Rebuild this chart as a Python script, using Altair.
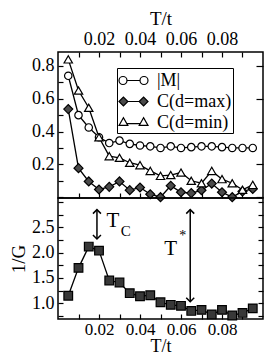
import altair as alt
import pandas as pd

# ---------------- data ----------------
T = [0.005, 0.010, 0.015, 0.020, 0.025, 0.030, 0.035, 0.040, 0.045, 0.050,
     0.055, 0.060, 0.065, 0.070, 0.075, 0.080, 0.085, 0.090, 0.095]
M_abs = [0.74, 0.50, 0.425, 0.365, 0.33, 0.345, 0.325, 0.315, 0.31, 0.30,
         0.31, 0.30, 0.305, 0.31, 0.31, 0.305, 0.30, 0.30, 0.30]
C_dmax = [0.537, 0.177, 0.096, 0.047, 0.063, 0.096, 0.043, 0.059, 0.018, 0.0,
          0.07, 0.03, 0.025, 0.042, 0.083, 0.03, 0.0, 0.035, 0.05]
C_dmin = [0.84, 0.65, 0.545, 0.365, 0.25, 0.24, 0.21, 0.195, 0.16, 0.13,
          0.135, 0.15, 0.10, 0.085, 0.16, 0.11, 0.085, 0.045, 0.075]
inv_G = [1.15, 1.70, 2.12, 2.04, 1.45, 1.41, 1.20, 1.14, 1.16, 1.02,
         0.97, 0.95, 0.85, 0.87, 0.78, 0.87, 0.76, 0.81, 0.90]
series_names = ["|M|", "C(d=max)", "C(d=min)"]

x_label_values = [0.02, 0.04, 0.06, 0.08]
x_tick_values = [0.01, 0.02, 0.03, 0.04, 0.05, 0.06, 0.07, 0.08, 0.09]
top_y_labels = [0.2, 0.4, 0.6, 0.8]
top_y_left_ticks = [0.0, 0.1, 0.2, 0.3, 0.4, 0.5, 0.6, 0.7, 0.8]
top_y_right_ticks = [0.0, 0.2, 0.4, 0.6, 0.8]
bot_y_labels = [1.0, 1.5, 2.0, 2.5]
bot_y_ticks = [0.75, 1.0, 1.25, 1.5, 1.75, 2.0, 2.25, 2.5, 2.75, 3.0]

# annotations (data coordinates)
arrow_x = [0.019, 0.0645]
arrow_top = [2.85, 2.85]
arrow_bottom = [2.27, 1.03]
main_text = ["T", "T"]
main_x = [0.0268, 0.0550]
main_y = [2.62, 2.07]
sub_text = ["C"]
sub_x = [0.0330]
sub_y = [2.42]
sup_text = ["*"]
sup_x = [0.0608]
sup_y = [2.32]

# ---------------- layout / style ----------------
FONT = "Liberation Serif"
W, H1, H2 = 205, 146, 121

xs = alt.Scale(domain=[0, 0.1], nice=False, zero=False)
ys_top = alt.Scale(domain=[-0.005, 0.885], nice=False, zero=False)
ys_bot = alt.Scale(domain=[0.69, 3.08], nice=False, zero=False)


def tick_axis(orient, offset, values, size=5):
    return alt.Axis(orient=orient, offset=offset, values=values, labels=False,
                    domain=False, grid=False, ticks=True, tickSize=size,
                    tickColor="black", tickWidth=1.2, title=None, minExtent=0)


def label_axis(orient, values, fmt, title=None, title_pad=2, label_pad=4,
               label_size=18, title_size=19):
    kw = dict(orient=orient, values=values, format=fmt, ticks=False, tickSize=0,
              domain=False, grid=False, labelPadding=label_pad, labelOverlap=False,
              labelFlush=False, labelFont=FONT, labelFontSize=label_size, labelColor="black")
    if title is not None:
        kw.update(title=title, titlePadding=title_pad, titleFont=FONT,
                  titleFontSize=title_size, titleFontWeight="normal", titleColor="black")
    else:
        kw.update(title=None)
    return alt.Axis(**kw)


rows = []
for name, vals in zip(series_names, [M_abs, C_dmax, C_dmin]):
    for t, v in zip(T, vals):
        rows.append({"T": t, "v": v, "series": name})
df_top = pd.DataFrame(rows)
df_bot = pd.DataFrame({"T": T, "g": inv_G})

# ---------------- top panel ----------------
top_lines = alt.Chart(df_top).mark_line(color="black", strokeWidth=1.3).encode(
    x=alt.X("T:Q", scale=xs, axis=label_axis("top", x_label_values, ".2f", title="T/t")),
    y=alt.Y("v:Q", scale=ys_top, axis=label_axis("left", top_y_labels, ".1f")),
    detail="series:N",
)

marker_style = {
    "|M|": dict(shape="circle", fill="white", size=55),
    "C(d=max)": dict(shape="diamond", fill="#4a4a4a", size=80),
    "C(d=min)": dict(shape="triangle-up", fill="white", size=70),
}
top_points = []
for name in series_names:
    st = marker_style[name]
    top_points.append(
        alt.Chart(df_top)
        .transform_filter(alt.datum.series == name)
        .mark_point(shape=st["shape"], filled=True, fill=st["fill"], stroke="black",
                    strokeWidth=1.2, size=st["size"], opacity=1)
        .encode(x=alt.X("T:Q", scale=xs, axis=None),
                y=alt.Y("v:Q", scale=ys_top, axis=None))
    )

# legend glyphs: marker - line - marker
legend_paths = [
    "M-1.38,0 A0.38,0.38 0 1,1 -0.62,0 A0.38,0.38 0 1,1 -1.38,0 Z M-0.62,0 L0.62,0 "
    "M0.62,0 A0.38,0.38 0 1,1 1.38,0 A0.38,0.38 0 1,1 0.62,0 Z",
    "M-1.38,0 L-0.96,-0.42 L-0.54,0 L-0.96,0.42 Z M-0.54,0 L0.54,0 "
    "M0.54,0 L0.96,-0.42 L1.38,0 L0.96,0.42 Z",
    "M-1.38,0.28 L-0.96,-0.45 L-0.54,0.28 Z M-0.64,0.1 L0.64,0.1 "
    "M0.54,0.28 L0.96,-0.45 L1.38,0.28 Z",
]
leg = alt.Legend(orient="none", legendX=59, legendY=16, title=None,
                 labelFont=FONT, labelFontSize=18, labelColor="black",
                 symbolSize=441, symbolStrokeWidth=1.2, symbolStrokeColor="black",
                 strokeColor="black", fillColor="white", padding=1, rowPadding=-3,
                 labelOffset=12, symbolOffset=4)
legend_layer = (
    alt.Chart(df_top)
    .transform_filter("datum.v < -100")
    .mark_point(filled=True, strokeWidth=1.2, opacity=1)
    .encode(
        x=alt.X("T:Q", scale=xs, axis=None),
        y=alt.Y("v:Q", scale=ys_top, axis=None),
        shape=alt.Shape("series:N", scale=alt.Scale(domain=series_names, range=legend_paths), legend=leg),
        fill=alt.Fill("series:N", scale=alt.Scale(domain=series_names, range=["white", "#4a4a4a", "white"]), legend=leg),
        stroke=alt.Stroke("series:N", scale=alt.Scale(domain=series_names, range=["black", "black", "black"]), legend=leg),
    )
)

top_ticks_a = alt.Chart(df_top).transform_filter("datum.v < -100").mark_point().encode(
    x=alt.X("T:Q", scale=xs, axis=tick_axis("bottom", -H1, x_tick_values)),
    y=alt.Y("v:Q", scale=ys_top, axis=tick_axis("right", -W, top_y_left_ticks)),
)
top_ticks_b = alt.Chart(df_top).transform_filter("datum.v < -100").mark_point().encode(
    x=alt.X("T:Q", scale=xs, axis=tick_axis("top", -H1, x_tick_values)),
    y=alt.Y("v:Q", scale=ys_top, axis=tick_axis("left", -W, top_y_right_ticks, 7)),
)

top = alt.layer(top_lines, *top_points, legend_layer, top_ticks_a, top_ticks_b).resolve_axis(
    x="independent", y="independent").properties(width=W, height=H1)

# ---------------- bottom panel ----------------
bot_line = alt.Chart(df_bot).mark_line(color="black", strokeWidth=1.3).encode(
    x=alt.X("T:Q", scale=xs, axis=label_axis("bottom", x_label_values, ".2f", title="T/t",
                                             title_pad=0, label_pad=2, label_size=17, title_size=18)),
    y=alt.Y("g:Q", scale=ys_bot, axis=label_axis("left", bot_y_labels, ".1f", title="1/G", title_pad=3)),
)
bot_pts = alt.Chart(df_bot).mark_point(shape="square", filled=True, fill="#383838", stroke="black",
                                       strokeWidth=1.2, size=75, opacity=1).encode(
    x=alt.X("T:Q", scale=xs, axis=None),
    y=alt.Y("g:Q", scale=ys_bot, axis=None),
)

df_arrow = pd.DataFrame({"x": arrow_x, "y1": arrow_top, "y2": arrow_bottom})
arrow_rules = alt.Chart(df_arrow).mark_rule(color="black", strokeWidth=1.5).encode(
    x=alt.X("x:Q", scale=xs, axis=None),
    y=alt.Y("y1:Q", scale=ys_bot, axis=None),
    y2="y2:Q",
)
head_up = alt.Chart(df_arrow).mark_point(shape="M-1,1 L0,0 L1,1", filled=False, stroke="black",
                                         strokeWidth=1.5, size=64, opacity=1).encode(
    x=alt.X("x:Q", scale=xs, axis=None),
    y=alt.Y("y1:Q", scale=ys_bot, axis=None),
)
head_down = alt.Chart(df_arrow).mark_point(shape="M-1,-1 L0,0 L1,-1", filled=False, stroke="black",
                                           strokeWidth=1.5, size=64, opacity=1).encode(
    x=alt.X("x:Q", scale=xs, axis=None),
    y=alt.Y("y2:Q", scale=ys_bot, axis=None),
)

df_main = pd.DataFrame({"x": main_x, "y": main_y, "t": main_text})
df_sub = pd.DataFrame({"x": sub_x, "y": sub_y, "t": sub_text})
df_sup = pd.DataFrame({"x": sup_x, "y": sup_y, "t": sup_text})
txt_main = alt.Chart(df_main).mark_text(font=FONT, fontSize=21, color="black").encode(
    x=alt.X("x:Q", scale=xs, axis=None), y=alt.Y("y:Q", scale=ys_bot, axis=None), text="t:N")
txt_sub = alt.Chart(df_sub).mark_text(font=FONT, fontSize=15, color="black").encode(
    x=alt.X("x:Q", scale=xs, axis=None), y=alt.Y("y:Q", scale=ys_bot, axis=None), text="t:N")
txt_sup = alt.Chart(df_sup).mark_text(font=FONT, fontSize=14, color="black").encode(
    x=alt.X("x:Q", scale=xs, axis=None), y=alt.Y("y:Q", scale=ys_bot, axis=None), text="t:N")

bot_ticks_a = alt.Chart(df_bot).transform_filter("datum.g < -100").mark_point().encode(
    x=alt.X("T:Q", scale=xs, axis=tick_axis("top", -H2, x_tick_values)),
    y=alt.Y("g:Q", scale=ys_bot, axis=tick_axis("right", -W, bot_y_ticks)),
)
bot_ticks_b = alt.Chart(df_bot).transform_filter("datum.g < -100").mark_point().encode(
    x=alt.X("T:Q", scale=xs, axis=None),
    y=alt.Y("g:Q", scale=ys_bot, axis=tick_axis("left", -W, bot_y_ticks)),
)

bottom = alt.layer(bot_line, bot_pts, arrow_rules, head_up, head_down, txt_main, txt_sub, txt_sup,
                   bot_ticks_a, bot_ticks_b).resolve_axis(
    x="independent", y="independent").properties(width=W, height=H2)

chart = (
    alt.vconcat(top, bottom, spacing=0, bounds="flush")
    .properties(padding=0)
    .configure_view(stroke="black", strokeWidth=1.5)
)

chart.save("out.html", embed_options={"renderer": "svg", "actions": False})
